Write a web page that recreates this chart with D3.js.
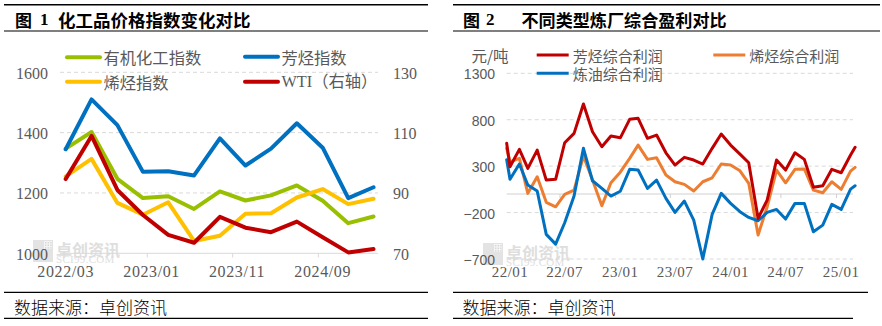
<!DOCTYPE html>
<html><head><meta charset="utf-8">
<script src="https://cdn.jsdelivr.net/npm/d3@7"></script>
<style>html,body{margin:0;padding:0;background:#fff;}</style>
</head><body>
<svg id="c" width="882" height="326"></svg>
<script>
// ---------- Chart 1 data (quarterly) ----------
const dates1 = ["2022-03","2022-06","2022-09","2022-12","2023-03","2023-06","2023-09","2023-12","2024-03","2024-06","2024-09","2024-12","2025-03"];
const organicIndex = [1347,1402,1247,1183,1189,1147,1205,1175,1192,1225,1174,1100,1122];
const aromaticIndex = [1345,1510,1425,1270,1272,1258,1381,1291,1347,1431,1350,1183,1219];
const olefinIndex = [1255,1313,1167,1128,1169,1041,1058,1131,1133,1185,1213,1163,1181];
const wti = [94.6,108.9,91.0,82.7,76.1,73.5,82.1,78.5,77.0,80.5,75.3,70.3,71.4];
const ticks1Left = [1000,1200,1400,1600];
const ticks1Right = [70,90,110,130];
const xLabels1 = ["2022-03","2023-01","2023-11","2024-09"];
const names1 = ["有机化工指数","芳烃指数","烯烃指数","WTI（右轴）"];

// ---------- Chart 2 data (monthly) ----------
const dates2 = ["2021-12-21","2022-01-01","2022-02-01","2022-03-01","2022-04-01","2022-05-01","2022-06-01","2022-07-01","2022-08-01","2022-09-01","2022-10-01","2022-11-01","2022-12-01",
"2023-01-01","2023-02-01","2023-03-01","2023-04-01","2023-05-01","2023-06-01","2023-07-01","2023-08-01","2023-09-01","2023-10-01","2023-11-01","2023-12-01",
"2024-01-01","2024-02-01","2024-03-01","2024-04-01","2024-05-01","2024-06-01","2024-07-01","2024-08-01","2024-09-01","2024-10-01","2024-11-01","2024-12-01",
"2025-01-01","2025-02-01","2025-02-16"];
const aromaticProfit = [546,294,481,276,473,150,158,552,653,969,671,509,624,605,804,815,600,635,444,312,395,366,323,492,646,527,430,337,-263,-65,366,258,444,373,72,89,266,229,420,503];
const olefinProfit = [492,347,384,7,186,-90,-138,-4,42,409,150,-127,121,235,384,527,373,391,204,132,104,32,132,175,323,312,250,115,-442,-138,258,121,266,269,42,13,132,50,247,287];
const refiningProfit = [370,158,323,96,32,-435,-540,-310,-22,492,143,61,-22,30,266,258,61,150,-47,-198,-76,-281,-700,-219,7,-101,-190,-252,-288,-198,-166,-270,-101,-101,-407,-335,-112,-166,53,89];
const ticks2 = [-700,-200,300,800,1300];
const xLabels2 = ["2022-01","2022-07","2023-01","2023-07","2024-01","2024-07","2025-01"];
const names2 = ["芳烃综合利润","烯烃综合利润","炼油综合利润"];

const CJK = "'Noto Sans CJK SC', sans-serif";
const SERIF = "'Liberation Serif', 'Noto Sans CJK SC', serif";
const GRAY = "#595959";
const GRID = "#d9d9d9";

const svg = d3.select("#c");
svg.append("rect").attr("width",882).attr("height",326).attr("fill","#fff");

const pm = d3.timeParse("%Y-%m");
const pd = d3.timeParse("%Y-%m-%d");

function hline(x1,x2,y,w,color,dash){
  const l = svg.append("line").attr("x1",x1).attr("x2",x2).attr("y1",y).attr("y2",y)
    .attr("stroke",color).attr("stroke-width",w);
  if(dash) l.attr("stroke-dasharray",dash);
  return l;
}
function txt(x,y,s,size,opts={}){
  return svg.append("text").attr("x",x).attr("y",y).text(s)
    .attr("font-family",opts.family||CJK).attr("font-size",size)
    .attr("font-weight",opts.weight||"normal")
    .attr("fill",opts.fill||GRAY)
    .attr("text-anchor",opts.anchor||"start")
    .attr("dominant-baseline","central")
    .attr("letter-spacing",opts.ls||0);
}
function watermark(x,y){
  const g = svg.append("g").attr("transform",`translate(${x},${y})`);
  g.append("rect").attr("x",0).attr("y",0).attr("width",20).attr("height",22).attr("fill","#e3e3e3");
  g.append("rect").attr("x",11).attr("y",1).attr("width",8).attr("height",8).attr("fill","#f4f4f4");
  for(let i=0;i<3;i++)for(let j=0;j<3;j++)
    g.append("rect").attr("x",12+i*2.6).attr("y",2+j*2.6).attr("width",1.4).attr("height",1.4).attr("fill","#d6d6d6");
  g.append("text").attr("x",23).attr("y",9).text("卓创资讯").attr("font-family",CJK)
    .attr("font-size",16).attr("font-weight","bold").attr("fill","#dedede").attr("dominant-baseline","central");
  g.append("text").attr("x",23).attr("y",19).text("SCI99.COM").attr("font-family","'Liberation Serif', serif")
    .attr("font-size",11).attr("fill","#dedede").attr("dominant-baseline","central").attr("letter-spacing",0.3);
}

// watermarks first (behind everything)
watermark(33,240);
watermark(483,243);

// ================= Chart 1 =================
hline(4,428,4.7,1.5,"#000");
hline(4,428,31,1.2,"#000");
txt(15,19.5,"图",17,{weight:"bold",fill:"#000"});
txt(40,19.5,"1",17,{weight:"bold",fill:"#000",family:SERIF});
txt(58,19.5,"化工品价格指数变化对比",17.5,{weight:"bold",fill:"#000"});

const x1 = d3.scaleTime().domain([pm("2022-03"),pm("2024-09")]).range([65.7,322.7]);
const y1 = d3.scaleLinear().domain([1000,1600]).range([253.3,72.3]);
const y1r = d3.scaleLinear().domain([70,130]).range([253.3,72.3]);

ticks1Left.forEach(t=>{
  if(t===1000) hline(60,378,y1(t),1,GRID);
  else hline(60,378,y1(t),1,GRID,"4,3");
  txt(48,y1(t)+1,String(t),16,{family:SERIF,anchor:"end"});
});
ticks1Right.forEach(t=>{
  txt(393,y1r(t)+1,String(t),16,{family:SERIF});
});
const halfMonth1 = (x1(pm("2022-04"))-x1(pm("2022-03")))/2;
xLabels1.forEach((d,i)=>{
  const xx = x1(pm(d));
  if(i>0) svg.append("line").attr("x1",xx-halfMonth1).attr("x2",xx-halfMonth1).attr("y1",253.3).attr("y2",257.5).attr("stroke",GRID).attr("stroke-width",1);
  txt(xx,271.5,d.replace("-","/"),16,{family:SERIF,anchor:"middle",ls:0.6});
});

const line1 = (ys,scale)=>d3.line().x((d,i)=>x1(pm(dates1[i]))).y(d=>scale(d))(ys);
const series1 = [
  {v:organicIndex,c:"#99c000",s:y1},
  {v:olefinIndex,c:"#ffc000",s:y1},
  {v:aromaticIndex,c:"#0070c0",s:y1},
  {v:wti,c:"#c00000",s:y1r}
];
series1.forEach(s=>{
  svg.append("path").attr("d",line1(s.v,s.s)).attr("fill","none").attr("stroke",s.c)
    .attr("stroke-width",4).attr("stroke-linejoin","round").attr("stroke-linecap","round");
});
// legend 1
const leg1 = [
  {x:67,y:57.3,c:"#99c000",t:names1[0]},
  {x:245,y:56.7,c:"#0070c0",t:names1[1]},
  {x:67,y:81.7,c:"#ffc000",t:names1[2]},
  {x:245,y:81.7,c:"#c00000",t:names1[3]}
];
leg1.forEach(l=>{
  svg.append("line").attr("x1",l.x).attr("x2",l.x+33).attr("y1",l.y).attr("y2",l.y)
    .attr("stroke",l.c).attr("stroke-width",4).attr("stroke-linecap","round");
  txt(l.x+36.5,l.y,l.t,16.3,{family: l.t.startsWith("WTI")?SERIF:CJK});
});

// ================= Chart 2 =================
hline(453,880,4.7,1.5,"#000");
hline(453,880,31,1.2,"#000");
txt(463,19.5,"图",17,{weight:"bold",fill:"#000"});
txt(486,19.5,"2",17,{weight:"bold",fill:"#000",family:SERIF});
txt(521.5,19.5,"不同类型炼厂综合盈利对比",17.1,{weight:"bold",fill:"#000"});

const x2 = d3.scaleTime().domain([pd("2022-01-01"),pd("2025-01-01")]).range([510,841.2]);
const y2 = d3.scaleLinear().domain([-700,1300]).range([259,73.3]);

ticks2.forEach(t=>{
  hline(506.7,853,y2(t),1,GRID,"4,3");
  txt(495,y2(t)+1,t<0?"−"+Math.abs(t):String(t),14,{family:"'Liberation Sans', sans-serif",anchor:"end"});
});
hline(506.7,853,y2(0),1,"#d0d0d0");
const halfMonth2 = (x2(pd("2022-02-01"))-x2(pd("2022-01-01")))/2;
xLabels2.forEach((d,i)=>{
  const xx = x2(pm(d));
  if(i>0) svg.append("line").attr("x1",xx-halfMonth2).attr("x2",xx-halfMonth2).attr("y1",y2(0)).attr("y2",y2(0)+4).attr("stroke","#d0d0d0").attr("stroke-width",1);
  txt(xx,272,d.slice(2).replace("-","/"),15,{family:SERIF,anchor:"middle",ls:0.5});
});

const line2 = ys=>d3.line().x((d,i)=>x2(pd(dates2[i]))).y(d=>y2(d))(ys);
[{v:olefinProfit,c:"#ed7d31"},{v:refiningProfit,c:"#0070c0"},{v:aromaticProfit,c:"#c00000"}].forEach(s=>{
  svg.append("path").attr("d",line2(s.v)).attr("fill","none").attr("stroke",s.c)
    .attr("stroke-width",3).attr("stroke-linejoin","round").attr("stroke-linecap","round");
});
txt(471.5,55,"元/吨",15.5,{});
const leg2 = [
  {x:536.7,y:55,c:"#c00000",t:names2[0]},
  {x:713.3,y:55,c:"#ed7d31",t:names2[1]},
  {x:536.7,y:73.3,c:"#0070c0",t:names2[2]}
];
leg2.forEach(l=>{
  svg.append("line").attr("x1",l.x).attr("x2",l.x+32).attr("y1",l.y).attr("y2",l.y)
    .attr("stroke",l.c).attr("stroke-width",3);
  txt(l.x+36,l.y,l.t,15,{});
});

// ================= Footers =================
hline(4,428,292.3,1.2,"#000");
hline(4,428,318.3,1.2,"#000");
txt(14,306,"数据来源：卓创资讯",17,{fill:"#000",weight:300});
hline(453,868,292.3,1.2,"#000");
hline(453,853,318.3,1.2,"#000");
txt(462.5,306,"数据来源：卓创资讯",17,{fill:"#000",weight:300});
</script>
</body></html>
